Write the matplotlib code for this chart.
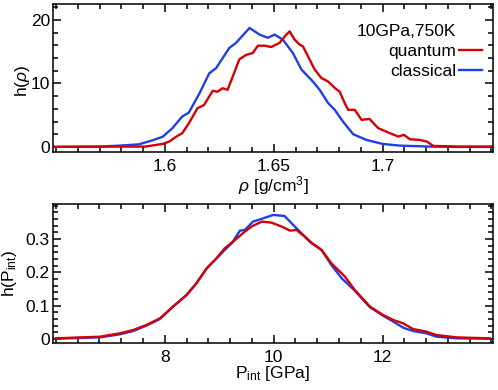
import matplotlib
matplotlib.use("Agg")
import matplotlib.pyplot as plt
from matplotlib.lines import Line2D
from matplotlib.ticker import MultipleLocator

plt.rcParams["font.family"] = ["Liberation Sans", "DejaVu Sans"]
plt.rcParams["mathtext.fontset"] = "custom"
plt.rcParams["mathtext.rm"] = "Liberation Sans"
plt.rcParams["mathtext.it"] = "Liberation Sans:italic"

RED = "#d60000"
BLUE = "#1f3fe6"
FS = 12.5

# density histograms h(rho)
rho_classical = [1.548, 1.570, 1.579, 1.588, 1.594, 1.599, 1.6035, 1.608, 1.611, 1.616,
                 1.6204, 1.6235, 1.6296, 1.6327, 1.6389, 1.6435, 1.6473, 1.6504, 1.6542,
                 1.6588, 1.6627, 1.668, 1.6711, 1.675, 1.678, 1.6818, 1.6865, 1.6926,
                 1.700, 1.708, 1.722, 1.735, 1.7507]
h_classical = [0.0, 0.05, 0.2, 0.4, 1.0, 1.6, 2.95, 4.8, 5.4, 8.5,
               11.6, 12.4, 15.6, 16.4, 18.75, 17.7, 17.2, 17.7, 16.9,
               14.8, 12.2, 10.3, 9.0, 6.9, 5.85, 4.0, 2.0, 1.1,
               0.47, 0.2, 0.05, 0.0, 0.0]

rho_quantum = [1.548, 1.579, 1.591, 1.599, 1.602, 1.6058, 1.608, 1.611, 1.615, 1.618,
               1.6204, 1.622, 1.6242, 1.6265, 1.6288, 1.6312, 1.6342, 1.6373, 1.6404,
               1.6427, 1.6458, 1.6489, 1.6527, 1.6558, 1.6573, 1.6596, 1.662, 1.6634,
               1.6657, 1.6688, 1.6719, 1.675, 1.678, 1.6803, 1.6826, 1.6842, 1.6872,
               1.6903, 1.694, 1.698, 1.7034, 1.7072, 1.7098, 1.7126, 1.7172, 1.7203,
               1.7233, 1.735, 1.7507]
h_quantum = [0.0, 0.05, 0.05, 0.47, 0.84, 1.74, 2.16, 3.7, 6.1, 6.6,
             7.95, 8.85, 8.7, 9.25, 9.0, 11.1, 13.8, 14.5, 14.8,
             15.95, 15.95, 15.75, 16.4, 17.7, 18.2, 16.9, 16.1, 15.85,
             14.3, 12.2, 10.85, 10.3, 9.3, 8.7, 6.9, 5.85, 5.85,
             4.27, 4.4, 2.95, 2.16, 1.63, 1.9, 1.2, 1.1, 0.84,
             0.16, 0.05, 0.05]

# internal pressure histograms h(P_int)
p_classical = [6.0, 6.81, 7.17, 7.42, 7.66, 7.91, 8.15, 8.4, 8.58, 8.77, 8.95, 9.1,
               9.23, 9.38, 9.47, 9.62, 9.81, 9.99, 10.2, 10.33, 10.48, 10.67, 10.88,
               11.06, 11.25, 11.49, 11.77, 12.01, 12.2, 12.38, 12.56, 12.81, 12.99,
               13.36, 13.97]
h_p_classical = [0.001, 0.005, 0.014, 0.024, 0.040, 0.060, 0.097, 0.132, 0.167, 0.212,
                 0.242, 0.267, 0.287, 0.325, 0.327, 0.352, 0.362, 0.372, 0.369, 0.347,
                 0.322, 0.292, 0.267, 0.222, 0.182, 0.145, 0.095, 0.070, 0.052, 0.034,
                 0.024, 0.017, 0.007, 0.002, 0.001]

p_quantum = [6.0, 6.81, 7.17, 7.42, 7.66, 7.91, 8.15, 8.4, 8.58, 8.77, 8.95, 9.1,
             9.29, 9.47, 9.59, 9.78, 9.96, 10.15, 10.3, 10.42, 10.57, 10.7, 10.88,
             11.06, 11.31, 11.49, 11.77, 12.01, 12.2, 12.38, 12.56, 12.81, 12.99,
             13.36, 13.97]
h_p_quantum = [0.002, 0.007, 0.017, 0.027, 0.042, 0.062, 0.097, 0.132, 0.167, 0.212,
               0.242, 0.272, 0.297, 0.322, 0.337, 0.352, 0.349, 0.337, 0.325, 0.327,
               0.307, 0.287, 0.267, 0.227, 0.187, 0.147, 0.097, 0.072, 0.057, 0.047,
               0.030, 0.022, 0.012, 0.005, 0.002]

rho_ticks = [1.6, 1.65, 1.7]
h_rho_ticks = [0, 10, 20]
p_ticks = [8, 10, 12]
h_p_ticks = [0, 0.1, 0.2, 0.3]

legend_title = "10GPa,750K"
series_labels = ["quantum", "classical"]


def style_axes(ax):
    ax.tick_params(which="both", direction="in", top=True, right=True,
                   width=1.1, labelsize=FS)
    ax.tick_params(axis="x", pad=5)
    ax.tick_params(axis="y", pad=2)
    ax.tick_params(which="major", length=6)
    ax.tick_params(which="minor", length=3.5)
    for spine in ax.spines.values():
        spine.set_linewidth(1.1)


fig = plt.figure(figsize=(4.98, 3.90), dpi=100)
ax1 = fig.add_axes([0.1058, 0.6103, 0.8842, 0.3807])
ax2 = fig.add_axes([0.1058, 0.1213, 0.8842, 0.3549])

ax1.plot(rho_classical, h_classical, color=BLUE, lw=1.7)
ax1.plot(rho_quantum, h_quantum, color=RED, lw=1.7)
ax1.set_xlim(1.5485, 1.7507)
ax1.set_ylim(-0.8, 22.6)
ax1.set_xticks(rho_ticks, [f"{v:g}" for v in rho_ticks])
ax1.set_yticks(h_rho_ticks, [f"{v:g}" for v in h_rho_ticks])
ax1.xaxis.set_minor_locator(MultipleLocator(0.01))
ax1.yaxis.set_minor_locator(MultipleLocator(2))
ax1.set_xlabel(r"$\rho$ [g/cm$^3$]", fontsize=FS, labelpad=0)
ax1.set_ylabel(r"h($\rho$)", fontsize=FS)
ax1.yaxis.set_label_coords(-0.047, 0.48)
style_axes(ax1)

handles = [Line2D([], [], color="none"),
           Line2D([], [], color=RED, lw=1.7),
           Line2D([], [], color=BLUE, lw=1.7)]
ax1.legend(handles, [legend_title] + series_labels, loc="upper right",
           bbox_to_anchor=(0.975, 0.865), frameon=False, markerfirst=False,
           handlelength=1.35, handletextpad=0.12, labelspacing=0.28,
           borderpad=0, borderaxespad=0, fontsize=FS)

ax2.plot(p_classical, h_p_classical, color=BLUE, lw=1.7)
ax2.plot(p_quantum, h_p_quantum, color=RED, lw=1.7)
ax2.set_xlim(5.94, 14.03)
ax2.set_ylim(-0.011, 0.404)
ax2.set_xticks(p_ticks, [f"{v:g}" for v in p_ticks])
ax2.set_yticks(h_p_ticks, [f"{v:g}" for v in h_p_ticks])
ax2.xaxis.set_minor_locator(MultipleLocator(0.4))
ax2.yaxis.set_minor_locator(MultipleLocator(0.02))
ax2.set_xlabel(r"P$_{\rm int}$ [GPa]", fontsize=FS, labelpad=-0.5)
ax2.set_ylabel(r"h(P$_{\rm int}$)", fontsize=FS)
ax2.yaxis.set_label_coords(-0.076, 0.5)
style_axes(ax2)

fig.savefig("out.png", dpi=100)
